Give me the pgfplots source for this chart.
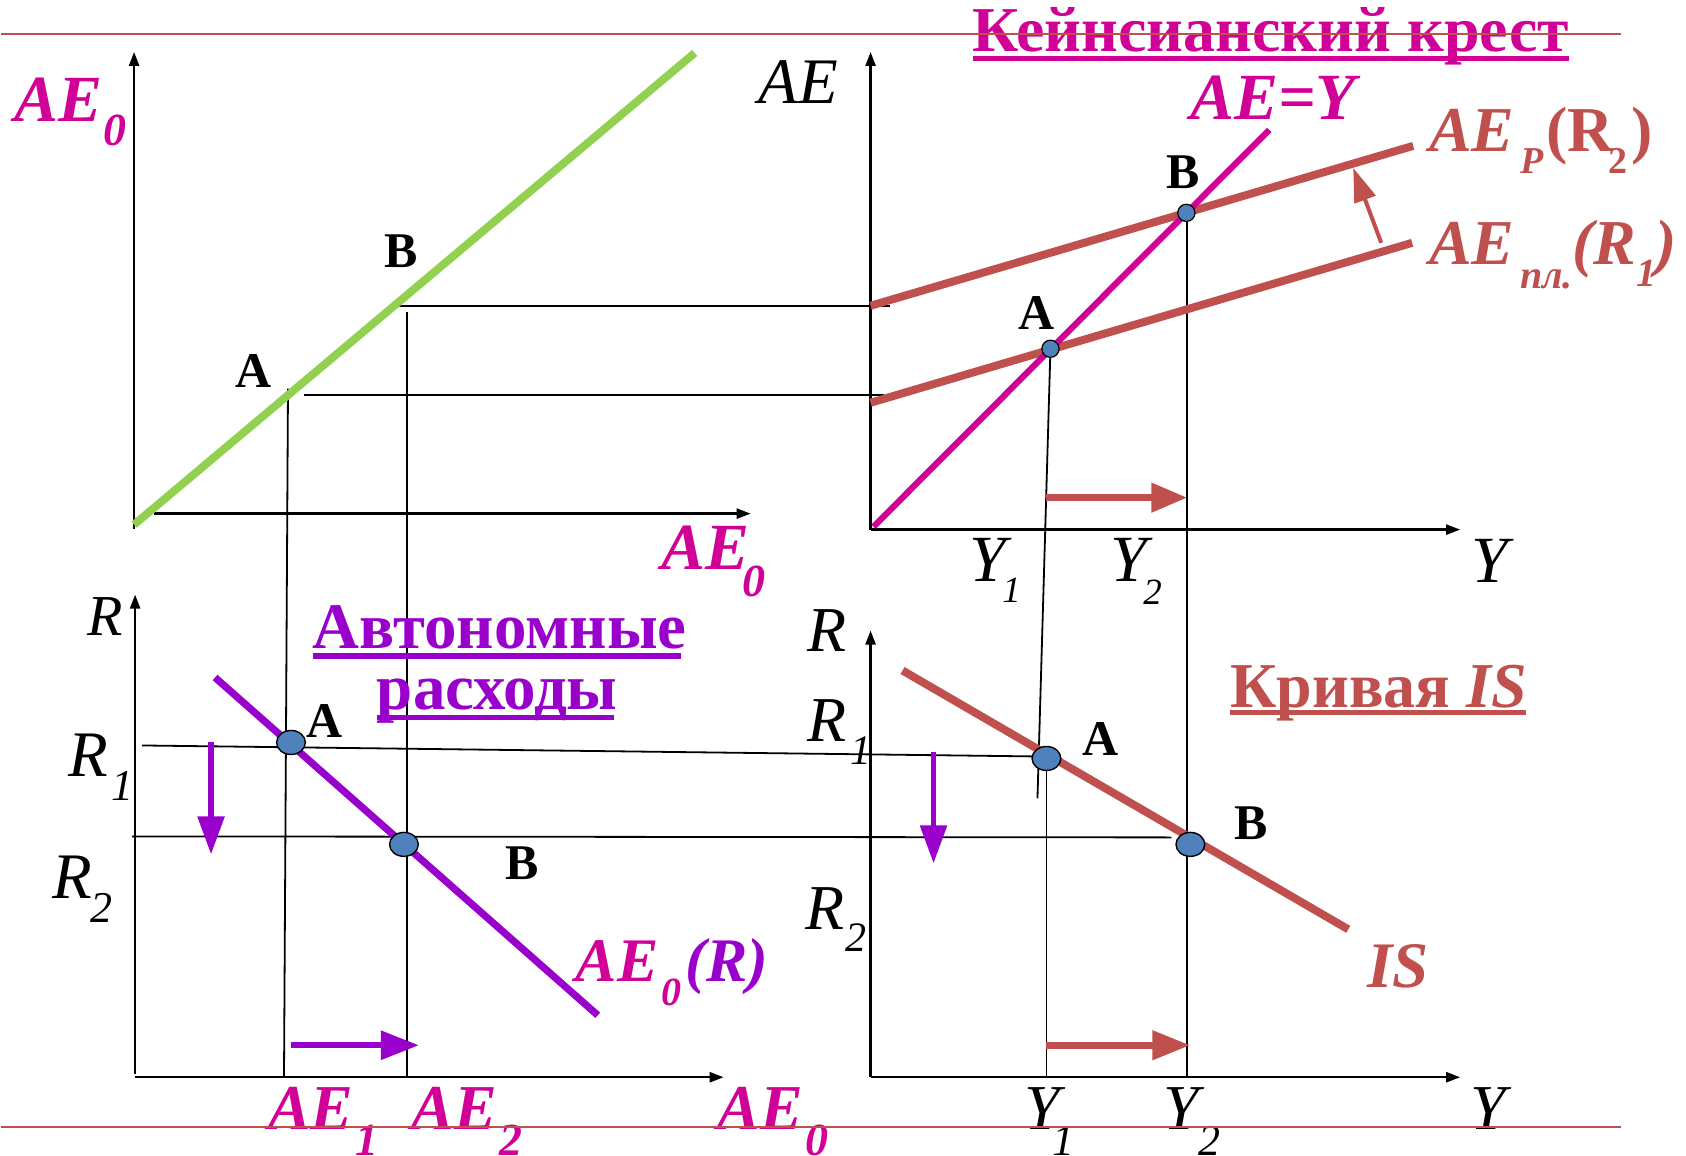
\documentclass[border=0pt]{standalone}
\usepackage{pgfplots}
\pgfplotsset{compat=1.18}
\usepackage{fontspec}
\setmainfont{Liberation Serif}
\usetikzlibrary{arrows.meta}

\definecolor{mag}{HTML}{D10097}
\definecolor{brick}{HTML}{C0504D}
\definecolor{viol}{HTML}{9900CC}
\definecolor{lgreen}{HTML}{92D050}
\definecolor{dotblue}{HTML}{4F81BD}

\newcommand{\fs}[1]{\fontsize{#1}{#1}\selectfont}

\begin{document}
\begin{tikzpicture}[
    lab/.style={anchor=base west, inner sep=0pt, outer sep=0pt},
    thin line/.style={black, line width=0.9pt},
    ax/.style={black, line width=1.2pt, -{Triangle[length=7pt, width=5pt]}},
]
\begin{axis}[
    hide axis, scale only axis, clip=false,
    width=843pt, height=577.5pt,
    xmin=0, xmax=1686, ymin=0, ymax=1155,
    y dir=reverse,
]
% ---------- upper left: AE0 = AE0 ----------
\addplot[ax] coordinates {(133,529) (133,52)};
\addplot[ax] coordinates {(153,514) (750,514)};
\addplot[thin line] coordinates {(390,306) (889,306)};
\addplot[thin line] coordinates {(303,395) (883,395)};
\addplot[thin line] coordinates {(287,389) (283,1078)};
\addplot[thin line] coordinates {(406,312) (406,1078)};
\addplot[lgreen, line width=4pt] coordinates {(133,525) (694,53)};

% ---------- upper right: Keynesian cross ----------
\addplot[ax] coordinates {(870,530) (870,52)};
\addplot[ax] coordinates {(870,530) (1460,530)};
\addplot[thin line] coordinates {(1187,214) (1187,1078)};
\addplot[thin line] coordinates {(1050,349) (1037,799)};
\addplot[thin line] coordinates {(1046,771) (1046,1078)};
\addplot[brick, line width=4pt] coordinates {(870,306) (1413,146)};
\addplot[brick, line width=4pt] coordinates {(870,403) (1412,243)};
\addplot[mag, line width=3.1pt] coordinates {(873,527) (1269,130)};
\addplot[brick, line width=3.7pt, -{Triangle[length=18pt, width=14pt]}] coordinates {(1046,498) (1187,498)};
\addplot[brick, line width=2pt, -{Triangle[length=17pt, width=11pt]}] coordinates {(1381,243) (1353,168)};
\addplot[only marks, mark=*, mark size=4.3pt, mark options={fill=dotblue, draw=black, line width=0.6pt}]
    coordinates {(1050,349) (1186,213)};

% ---------- lower left: autonomous spending ----------
\addplot[ax] coordinates {(134,1075) (134,595)};
\addplot[ax] coordinates {(134,1078) (723,1078)};
\addplot[thin line] coordinates {(141,746) (1037,757)};
\addplot[thin line] coordinates {(131,837) (1171,838)};
\addplot[viol, line width=3.6pt] coordinates {(214,678) (597,1016)};
\addplot[viol, line width=2.8pt, -{Triangle[length=19pt, width=13pt]}] coordinates {(210,743) (210,855)};
\addplot[viol, line width=3pt, -{Triangle[length=19pt, width=14pt]}] coordinates {(290,1046) (418,1046)};

% ---------- lower right: IS ----------
\addplot[ax] coordinates {(870,1078) (870,631)};
\addplot[ax] coordinates {(870,1078) (1460,1078)};
\addplot[brick, line width=4pt] coordinates {(902,671) (1348,930)};
\addplot[viol, line width=2.8pt, -{Triangle[length=19pt, width=13pt]}] coordinates {(933,753) (933,864)};
\addplot[brick, line width=3.7pt, -{Triangle[length=19pt, width=14pt]}] coordinates {(1046,1046) (1190,1046)};
\addplot[only marks, mark=*, mark size=6pt, mark options={xscale=1.2, fill=dotblue, draw=black, line width=0.7pt}]
    coordinates {(290,743) (403,845) (1046,759) (1190,845)};

% underlines
\addplot[mag, line width=2.6pt] coordinates {(972,58.5) (1569,58.5)};
\addplot[viol, line width=3pt] coordinates {(312,656) (680,656)};
\addplot[viol, line width=2.6pt] coordinates {(376,718) (613,718)};
\addplot[brick, line width=2.5pt] coordinates {(1230,713) (1526,713)};

% ---------- texts ----------
% upper left
\node[lab, mag] at (13,122) {\fs{33}\bfseries\itshape AE};
\node[lab, mag] at (102,146) {\fs{23}\bfseries\itshape 0};
\node[lab] at (758,104) {\fs{32.5}\itshape AE};
\node[lab, mag] at (661,570) {\fs{33}\bfseries\itshape AE};
\node[lab, mag] at (742,597) {\fs{23}\bfseries\itshape 0};
\node[lab] at (384,268) {\fs{25}\bfseries B};
\node[lab] at (234,388) {\fs{25}\bfseries A};

% upper right
\node[lab, mag] at (972,52) {\fs{32}\bfseries Кейнсианский крест};
\node[lab, mag] at (1190,120) {\fs{33}\bfseries\itshape AE=Y};
\node[lab, brick] at (1429,152) {\fs{32}\bfseries\itshape AE};
\node[lab, brick] at (1520,174) {\fs{19}\bfseries\itshape P};
\node[lab, brick] at (1546,152) {\fs{32}\bfseries (R};
\node[lab, brick] at (1608,174) {\fs{19}\bfseries 2};
\node[lab, brick] at (1631,152) {\fs{32}\bfseries )};
\node[lab, brick] at (1429,265) {\fs{32}\bfseries\itshape AE};
\node[lab, brick] at (1520,289) {\fs{20}\bfseries\itshape пл.};
\node[lab, brick] at (1572,265) {\fs{32}\bfseries\itshape (R};
\node[lab, brick] at (1636,287) {\fs{20}\bfseries\itshape 1};
\node[lab, brick] at (1655,265) {\fs{32}\bfseries\itshape )};
\node[lab] at (1166,189) {\fs{25}\bfseries B};
\node[lab] at (1018,330) {\fs{25}\bfseries A};
\node[lab] at (969,582) {\fs{33}\itshape Y};
\node[lab] at (1002,603) {\fs{18.5}\itshape 1};
\node[lab] at (1110,582) {\fs{33}\itshape Y};
\node[lab] at (1143,605) {\fs{18.5}\itshape 2};
\node[lab] at (1471,583) {\fs{33}\itshape Y};

% lower left
\node[lab, viol] at (312,649) {\fs{32.5}\bfseries Автономные};
\node[lab, viol] at (376,710) {\fs{32.5}\bfseries расходы};
\node[lab] at (86,636) {\fs{29}\itshape R};
\node[lab] at (67,777) {\fs{32.5}\itshape R};
\node[lab] at (110,801) {\fs{22}\itshape 1};
\node[lab] at (51,899) {\fs{32.5}\itshape R};
\node[lab] at (89,923) {\fs{22}\itshape 2};
\node[lab] at (306,738) {\fs{25}\bfseries A};
\node[lab] at (505,880) {\fs{25}\bfseries B};
\node[lab, mag] at (575,982) {\fs{31}\bfseries\itshape AE};
\node[lab, mag] at (661,1006) {\fs{20}\bfseries\itshape 0};
\node[lab, viol] at (685,982) {\fs{31}\bfseries\itshape (R)};
\node[lab, mag] at (267,1130) {\fs{32}\bfseries\itshape AE};
\node[lab, mag] at (355,1156) {\fs{23}\bfseries\itshape 1};
\node[lab, mag] at (411,1130) {\fs{32}\bfseries\itshape AE};
\node[lab, mag] at (499,1156) {\fs{23}\bfseries\itshape 2};
\node[lab, mag] at (717,1130) {\fs{32}\bfseries\itshape AE};
\node[lab, mag] at (805,1156) {\fs{23}\bfseries\itshape 0};

% lower right
\node[lab] at (807,652) {\fs{32}\itshape R};
\node[lab] at (807,742) {\fs{32}\itshape R};
\node[lab] at (850,765) {\fs{21}\itshape 1};
\node[lab] at (805,930) {\fs{32}\itshape R};
\node[lab] at (845,952) {\fs{21}\itshape 2};
\node[lab] at (1082,756) {\fs{25}\bfseries A};
\node[lab] at (1234,840) {\fs{25}\bfseries B};
\node[lab, brick] at (1230,708) {\fs{32}\bfseries Кривая \textit{IS}};
\node[lab, brick] at (1367,988) {\fs{32.5}\bfseries\itshape IS};
\node[lab] at (1024,1130) {\fs{32}\itshape Y};
\node[lab] at (1052,1156) {\fs{22}\itshape 1};
\node[lab] at (1163,1130) {\fs{32}\itshape Y};
\node[lab] at (1198,1156) {\fs{22}\itshape 2};
\node[lab] at (1470,1130) {\fs{32}\itshape Y};

% slide rules (drawn over everything)
\addplot[brick, line width=1.2pt] coordinates {(0,34) (1621,34)};
\addplot[brick, line width=1.2pt] coordinates {(0,1128) (1621,1128)};

% page = the slide area
\pgfresetboundingbox
\path[use as bounding box] (axis cs:0,0) rectangle (axis cs:1686,1155);
\end{axis}
\end{tikzpicture}
\end{document}
